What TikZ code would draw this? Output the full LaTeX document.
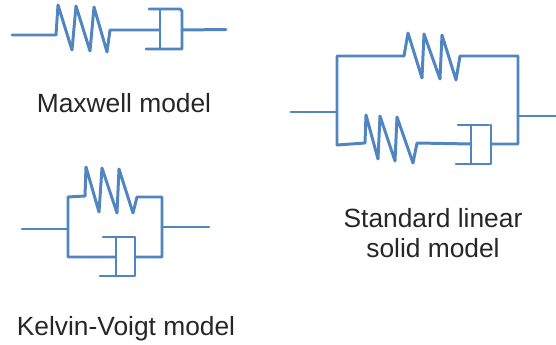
\documentclass[tikz,border=0pt]{standalone}
\usepackage{fontspec}
\setmainfont{Liberation Sans}
\usepackage{xcolor}
\usepackage{tikz}
\definecolor{wireblue}{HTML}{5085C0}
\tikzset{
  wire/.style={draw=wireblue, line width=1.7pt, line join=round, line cap=round},
  caption/.style={font=\fontsize{15}{17}\selectfont, align=center, text=black!85, inner sep=0pt}
}
\begin{document}
\begin{tikzpicture}[x=0.02cm, y=-0.02cm]
  \useasboundingbox (0,0) rectangle (556,345);
  % Maxwell
  \coordinate (mIn) at (12,35);
  \coordinate (mOut) at (226,29.5);
  \coordinate (mPlunger) at (160,30);
  \coordinate (mCyl) at (182,30);
  \draw[wire] (mIn) -- (56,35) -- (58,5) -- (72,50) -- (76,6) -- (90,51) -- (94,7) -- (107,52) -- (110,30) -- (mPlunger);
  \draw[wire] (160,9) -- (160,49);
  \draw[wire] (149,9) -- (180,9) -- (182,11) -- (182,49) -- (146,49);
  \draw[wire] (mCyl) -- (mOut);
  \node[caption] (mLabel) at (124,103) {Maxwell model};
  % Kelvin-Voigt
  \coordinate (kIn) at (22,229);
  \coordinate (kOut) at (209,227);
  \coordinate (kLeft) at (68,229);
  \coordinate (kRight) at (162,227);
  \draw[wire] (kIn) -- (kLeft);
  \draw[wire] (kOut) -- (kRight);
  \draw[wire] (85,196) -- (86,167) -- (99,212) -- (102,168) -- (117,213) -- (119,169) -- (133,213) -- (137,197) -- (162,197) -- (162,257) -- (135,257);
  \draw[wire] (85,196) -- (68,197) -- (68,257) -- (116,257);
  \draw[wire] (116,237) -- (116,276);
  \draw[wire] (103,237) -- (135,237) -- (135,276) -- (100,276);
  \node[caption] (kLabel) at (126,329) {Kelvin-Voigt model};
  % Standard linear solid
  \coordinate (sIn) at (291,112);
  \coordinate (sOut) at (556,116);
  \coordinate (sLeft) at (337,112);
  \coordinate (sRight) at (518,116);
  \draw[wire] (sIn) -- (sLeft);
  \draw[wire] (sRight) -- (sOut);
  \draw[wire] (404,56) -- (408,33) -- (422,78) -- (424,34) -- (440,79) -- (442,35) -- (456,80) -- (460,56) -- (518,56) -- (518,144) -- (491,144);
  \draw[wire] (404,56) -- (337,56) -- (337,145) -- (365,143) -- (366,115) -- (378,159) -- (380,116) -- (395,161) -- (397,117) -- (413,163) -- (417,143) -- (471,144);
  \draw[wire] (471,125) -- (471,164);
  \draw[wire] (458,125) -- (489,125);
  \draw[wire] (491,125) -- (491,164) -- (456,164);
  \node[caption] (sLabel) at (433,233) {Standard linear\\solid model};
\end{tikzpicture}
\end{document}
